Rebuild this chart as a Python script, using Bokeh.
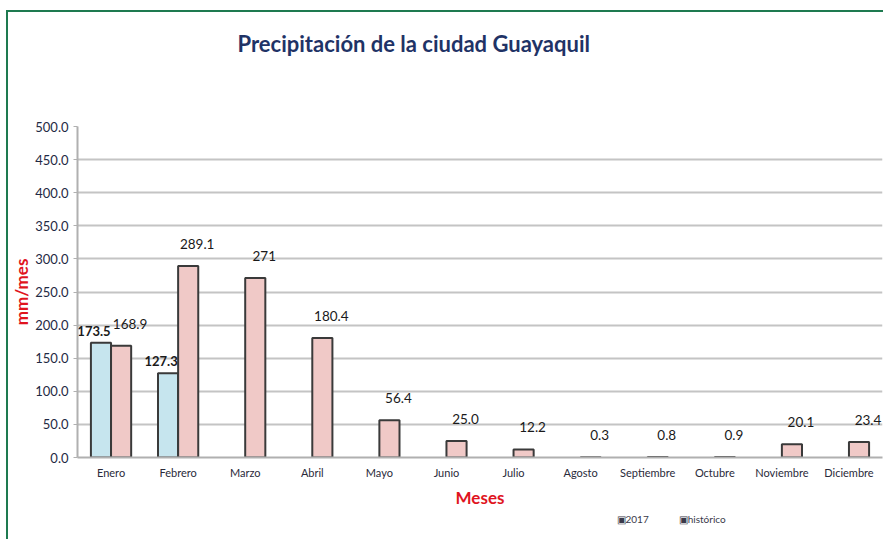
from bokeh.plotting import figure
from bokeh.models import ColumnDataSource, FactorRange, Range1d, Title, FixedTicker, CustomJSTickFormatter
from bokeh.transform import dodge
from bokeh.core.properties import value
from bokeh.embed import file_html
from bokeh.resources import INLINE

months = ["Enero", "Febrero", "Marzo", "Abril", "Mayo", "Junio", "Julio",
          "Agosto", "Septiembre", "Octubre", "Noviembre", "Diciembre"]
v2017 = [173.5, 127.3]
historico = [168.9, 289.1, 271, 180.4, 56.4, 25.0, 12.2, 0.3, 0.8, 0.9, 20.1, 23.4]
hist_labels = ["168.9", "289.1", "271", "180.4", "56.4", "25.0", "12.2", "0.3", "0.8", "0.9", "20.1", "23.4"]
series_names = ["2017", "histórico"]
y_ticks = [0, 50, 100, 150, 200, 250, 300, 350, 400, 450, 500]

FONT = "Lato"

src17 = ColumnDataSource(dict(m=months[:len(v2017)], v=v2017, t=[f"{x:.1f}" for x in v2017]))
srch = ColumnDataSource(dict(m=months, v=historico, t=hist_labels))

p = figure(width=877, height=529, x_range=FactorRange(*months, range_padding=0),
           y_range=Range1d(0, 500), output_backend="svg", toolbar_location=None,
           min_border_left=68, min_border_right=3, min_border_top=114, min_border_bottom=84)
p.styles = {"border-top": "2px solid #1e7a50", "border-left": "2px solid #1e7a50",
            "margin-left": "6px", "margin-top": "10px"}
p.outline_line_color = None
p.background_fill_color = "white"

p.vbar(x=dodge("m", -0.15, range=p.x_range), top="v", width=0.3, source=src17,
       fill_color="#c6e5ee", line_color="#3a3a3a", line_width=2)
p.vbar(x=dodge("m", 0.15, range=p.x_range), top="v", width=0.3, source=srch,
       fill_color="#f0c9c7", line_color="#3a3a3a", line_width=2)

p.text(x=dodge("m", -0.15, range=p.x_range), y="v", text="t", source=src17,
       text_align="center", text_baseline="bottom", y_offset=-7, x_offset=-7,
       text_font=value(FONT), text_font_size="13px", text_font_style="bold", text_color="#1a1a1a")
p.text(x=dodge("m", 0.15, range=p.x_range), y="v", text="t", source=srch,
       text_align="center", text_baseline="bottom", y_offset=-17, x_offset=9,
       text_font=value(FONT), text_font_size="13.5px", text_color="#1a1a1a")

# grid
p.xgrid.grid_line_color = None
p.ygrid.grid_line_color = "#c4c4c4"
p.ygrid.grid_line_width = 2
p.ygrid.ticker = FixedTicker(ticks=y_ticks)

# y axis
p.yaxis.ticker = FixedTicker(ticks=y_ticks)
p.yaxis.formatter = CustomJSTickFormatter(code="return tick.toFixed(1);")
p.yaxis.axis_line_color = "#b0b0b0"
p.yaxis.axis_line_width = 2
p.yaxis.major_tick_line_color = "#b0b0b0"
p.yaxis.major_tick_out = 4
p.yaxis.major_tick_in = 0
p.yaxis.minor_tick_line_color = None
p.yaxis.major_label_text_font = FONT
p.yaxis.major_label_text_font_size = "13px"
p.yaxis.major_label_text_color = "#1f2a44"
p.yaxis.major_label_standoff = 5
p.yaxis.axis_label = "mm/mes"
p.yaxis.axis_label_text_font = FONT
p.yaxis.axis_label_text_font_size = "17px"
p.yaxis.axis_label_text_font_style = "bold"
p.yaxis.axis_label_text_color = "#e0141e"
p.yaxis.axis_label_standoff = 0

# x axis
p.xaxis.axis_line_color = "#b0b0b0"
p.xaxis.axis_line_width = 2
p.xaxis.major_tick_line_color = None
p.xaxis.major_label_text_font = FONT
p.xaxis.major_label_text_font_size = "11px"
p.xaxis.major_label_text_color = "#2a2a3a"
p.xaxis.major_label_standoff = 2
p.xaxis.axis_label = "Meses"
p.xaxis.axis_label_text_font = FONT
p.xaxis.axis_label_text_font_size = "17px"
p.xaxis.axis_label_text_font_style = "bold"
p.xaxis.axis_label_text_color = "#e0141e"
p.xaxis.axis_label_standoff = 5

title = Title(text="Precipitación de la ciudad Guayaquil\n\u00a0\n\u00a0", align="left", offset=160,
              text_font=FONT, text_font_size="22px", text_font_style="bold",
              text_color="#1f3366", standoff=31)
p.add_layout(title, "above")

legend_text = ("\u25a3" + series_names[0] + "\u2002" * 6 + "\u25a3" + series_names[1])
legend = Title(text=legend_text, align="left", offset=539,
               text_font=FONT, text_font_size="10px", text_font_style="normal",
               text_color="#3a3a4a", standoff=0)
p.add_layout(legend, "below")

open("out.html", "w").write(file_html(p, INLINE))
